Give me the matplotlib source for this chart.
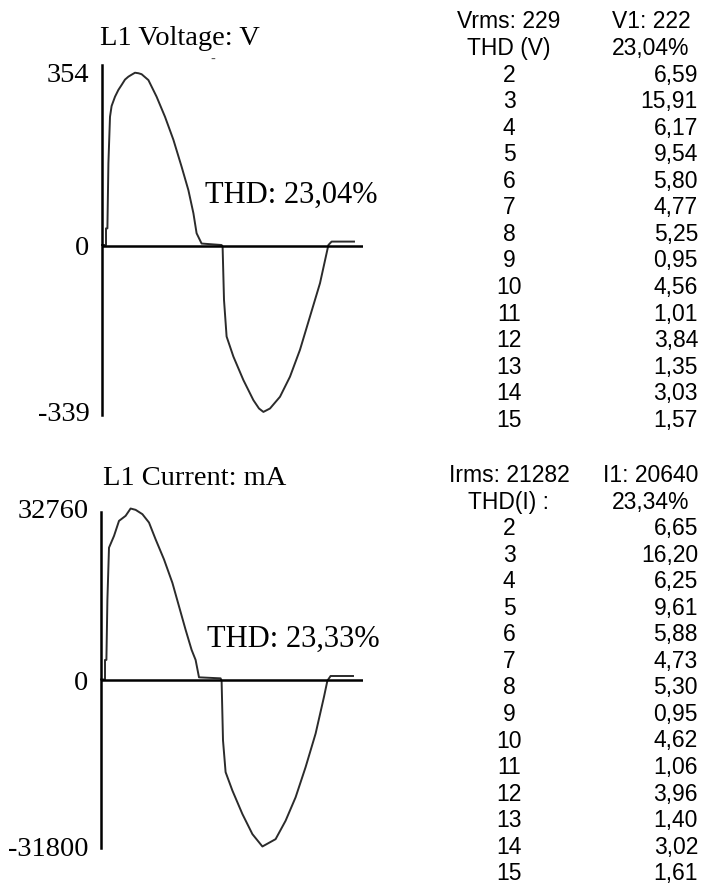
import matplotlib
matplotlib.use('Agg')
import matplotlib.pyplot as plt

# waveform samples (sample index, value)
volt_t = [0, 2, 2, 2.7, 3.2, 4, 4.8, 6.5, 8.2, 9.8, 11.5, 13.2, 14.8, 16.5, 18.2,
          19.8, 23.2, 27.3, 31.5, 35.7, 39.8, 43.2, 45.7, 47.3, 49.8, 59.8, 60.3,
          61, 62.3, 65.7, 70.7, 75.7, 78.5, 80.7, 84, 89, 94, 99, 104, 109, 113.2,
          114.8, 126]
volt_v = [2, 2, 36, 36, 169, 264, 286, 305, 319, 329, 340, 346, 350, 354, 353,
          351, 339, 305, 264, 217, 162, 114, 67, 26, 5, 2, -1,
          -110, -185, -226, -274, -315, -332, -339, -332, -308, -267, -212, -144, -76, 2,
          9, 9]

curr_t = [0, 2, 2, 2.7, 3.2, 4, 6.5, 9, 12.3, 14.8, 17.3, 20.7, 24, 27.3, 31.5,
          35.7, 39, 42.3, 45.3, 47.3, 49, 59.8, 60.3, 61, 62.3, 65.7, 70.7, 75.7,
          80.7, 87.3, 92.3, 97.3, 102.3, 107.3, 111.5, 113.2, 114.8, 126]
curr_i = [100, 100, 3840, 3840, 15360, 25280, 27520, 30400, 31360, 32760, 32510,
          31680, 30080, 26880, 23040, 18560, 14080, 9600, 5760, 3840, 512, 320,
          -128, -11520, -17600, -21120, -25600, -29440, -31800, -30400, -26880,
          -22400, -16640, -10240, -3200, -128, 768, 768]

volt_ticks = [354, 0, -339]
curr_ticks = [32760, 0, -31800]

orders = [2, 3, 4, 5, 6, 7, 8, 9, 10, 11, 12, 13, 14, 15]
volt_harm = ['6,59', '15,91', '6,17', '9,54', '5,80', '4,77', '5,25', '0,95',
             '4,56', '1,01', '3,84', '1,35', '3,03', '1,57']
curr_harm = ['6,65', '16,20', '6,25', '9,61', '5,88', '4,73', '5,30', '0,95',
             '4,62', '1,06', '3,96', '1,40', '3,02', '1,61']

volt_head = [('Vrms: 229', 'V1: 222'), ('THD (V)', '23,04%')]
curr_head = [('Irms: 21282', 'I1: 20640'), ('THD(I) :', '23,34%')]

W, H = 708, 890
fig = plt.figure(figsize=(W / 100, H / 100), dpi=100)
SERIF = 'Liberation Serif'
SANS = 'Liberation Sans'


def ftext(x, y, s, **kw):
    # x, y in pixels from the top-left corner
    fig.text(x / W, 1 - y / H, s, **kw)


def wave_panel(rect, t, y, ylim, bounds, ticks, title, title_x, title_y, thd, thd_x, thd_y):
    left, top, right, bottom = rect
    ax = fig.add_axes([left / W, 1 - bottom / H, (right - left) / W, (bottom - top) / H])
    ax.plot(t, y, color='#2b2b2b', lw=1.4, clip_on=False)
    ax.axhline(0, color='black', lw=1.8)
    ax.set_xlim(0, (right - left) / 2)
    ax.set_ylim(*ylim)
    for s in ['top', 'right', 'bottom']:
        ax.spines[s].set_visible(False)
    ax.spines['left'].set_bounds(*bounds)
    ax.spines['left'].set_linewidth(1.8)
    ax.set_xticks([])
    ax.set_yticks(ticks)
    ax.set_yticklabels([str(v) for v in ticks], fontsize=20.5, family=SERIF)
    ax.tick_params(axis='y', length=0, pad=9)
    ax.patch.set_alpha(0)
    ftext(title_x, title_y, title, fontsize=20.5, family=SERIF, ha='center', va='baseline')
    ftext(thd_x, thd_y, thd, fontsize=22, family=SERIF, ha='left', va='baseline')
    return ax


def table(head, harm, base0):
    step = 26.55
    rows = head + [(str(o), v) for o, v in zip(orders, harm)]
    for k, (a, b) in enumerate(rows):
        yb = base0 + step * k
        ftext(509, yb, a, fontsize=16.5, family=SANS, ha='center', va='baseline')
        if k < len(head):
            ftext(651, yb, b, fontsize=16.5, family=SANS, ha='center', va='baseline')
        else:
            ftext(698, yb, b, fontsize=16.5, family=SANS, ha='right', va='baseline')


wave_panel((102, 65, 363, 415), volt_t, volt_v, (-345.3, 369.8), (-345.3, 369.8),
           volt_ticks, 'L1 Voltage: V', 180, 45, 'THD: 23,04%', 205, 203)
ftext(213, 60, '-', fontsize=10, color='#555555', ha='center', va='center')

wave_panel((101, 505.7, 363, 848), curr_t, curr_i, (-32090, 33300), (-32090, 32090),
           curr_ticks, 'L1 Current: mA', 195, 485, 'THD: 23,33%', 207, 647)

table(volt_head, volt_harm, 28.5)
table(curr_head, curr_harm, 482)

fig.savefig('out.png', dpi=100)
